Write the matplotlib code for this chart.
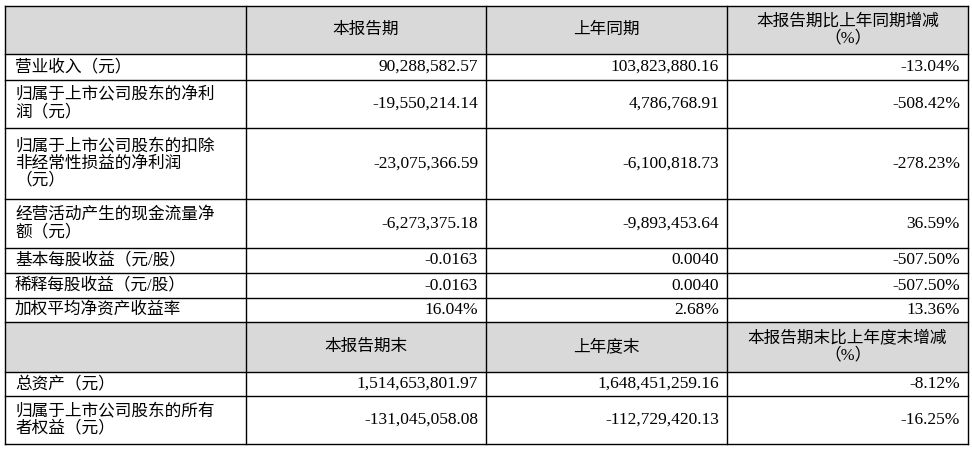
import matplotlib
matplotlib.use("Agg")
import matplotlib.pyplot as plt

header1 = ["", "本报告期", "上年同期", "本报告期比上年同期增减\n（%）"]
labels1 = ["营业收入（元）", "归属于上市公司股东的净利\n润（元）",
           "归属于上市公司股东的扣除\n非经常性损益的净利润\n（元）",
           "经营活动产生的现金流量净\n额（元）", "基本每股收益（元/股）",
           "稀释每股收益（元/股）", "加权平均净资产收益率"]
current1 = ["90,288,582.57", "-19,550,214.14", "-23,075,366.59", "-6,273,375.18",
            "-0.0163", "-0.0163", "16.04%"]
previous1 = ["103,823,880.16", "4,786,768.91", "-6,100,818.73", "-9,893,453.64",
             "0.0040", "0.0040", "2.68%"]
change1 = ["-13.04%", "-508.42%", "-278.23%", "36.59%", "-507.50%", "-507.50%", "13.36%"]
header2 = ["", "本报告期末", "上年度末", "本报告期末比上年度末增减\n（%）"]
labels2 = ["总资产（元）", "归属于上市公司股东的所有\n者权益（元）"]
current2 = ["1,514,653,801.97", "-131,045,058.08"]
previous2 = ["1,648,451,259.16", "-112,729,420.13"]
change2 = ["-8.12%", "-16.25%"]

xs = [5, 246, 486, 727, 968]
ys = [6, 54, 80, 128, 199, 248, 273, 298, 322, 372, 396, 444]

fig = plt.figure(figsize=(9.72, 4.51), dpi=100)
ax = fig.add_axes([0, 0, 1, 1])
ax.set_xlim(0, 972); ax.set_ylim(451, 0); ax.axis("off")
fam = ['Liberation Serif', 'Noto Sans CJK SC']
fs = 12

rows = [("h", header1)] + [("d", (labels1[i], current1[i], previous1[i], change1[i])) for i in range(7)] \
     + [("h", header2)] + [("d", (labels2[i], current2[i], previous2[i], change2[i])) for i in range(2)]

for r, (kind, cells) in enumerate(rows):
    y0, y1 = ys[r], ys[r + 1]
    if kind == "h":
        ax.add_patch(plt.Rectangle((xs[0], y0), xs[4] - xs[0], y1 - y0, color="#d9d9d9", lw=0, zorder=0))
    for c, txt in enumerate(cells):
        if not txt:
            continue
        if kind == "h":
            ax.text((xs[c] + xs[c + 1]) / 2, (y0 + y1) / 2, txt, ha="center", va="center",
                    fontsize=fs, family=fam, linespacing=1.1)
        elif c == 0:
            ax.text(xs[0] + 10, (y0 + y1) / 2, txt, ha="left", va="center",
                    fontsize=fs, family=fam, linespacing=1.1)
        else:
            ax.text(xs[c + 1] - 8, (y0 + y1) / 2, txt, ha="right", va="center",
                    fontsize=12.5, family=fam)

for y in ys:
    ax.plot([xs[0], xs[4]], [y, y], color="black", lw=1)
for x in xs:
    ax.plot([x, x], [ys[0], ys[-1]], color="black", lw=1)

fig.savefig("out.png", dpi=100)
